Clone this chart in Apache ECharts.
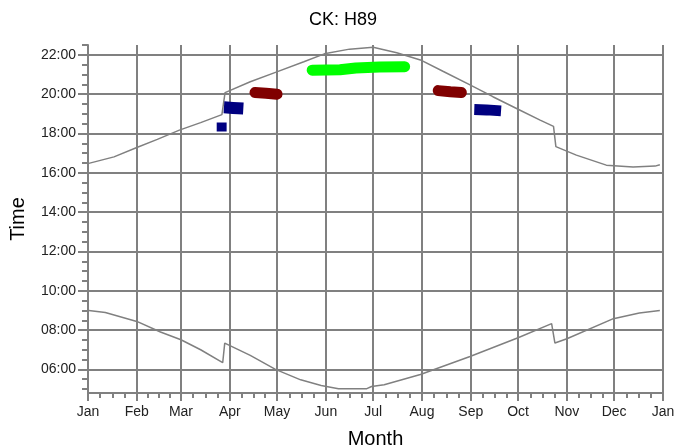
<!DOCTYPE html>
<html>
<head>
<meta charset="utf-8">
<script src="https://cdn.jsdelivr.net/npm/echarts@6/dist/echarts.min.js"></script>
<style>
html,body{margin:0;padding:0;background:#fff;}
#chart{width:674px;height:445px;}
</style>
</head>
<body>
<div id="chart"></div>
<script>
// ---- data (day of year, hours) ----
const monthLabels = ['Jan','Feb','Mar','Apr','May','Jun','Jul','Aug','Sep','Oct','Nov','Dec','Jan'];
const monthStartDays = [0,31,59,90,120,151,181,212,243,273,304,334,365];
const hourLabels = [6,8,10,12,14,16,18,20,22];

const sunsetDays  = [0.5, 16.5, 31, 44, 58, 71.5, 85, 87, 103, 119, 137, 150, 166, 181, 196, 211, 225.6, 242.5, 257, 273, 287, 295.5, 297, 310, 329, 346, 360, 363];
const sunsetHours = [16.48, 16.81, 17.29, 17.70, 18.17, 18.55, 18.96, 20.08, 20.63, 21.11, 21.65, 22.05, 22.29, 22.39, 22.11, 21.74, 21.15, 20.47, 19.87, 19.23, 18.68, 18.36, 17.33, 16.90, 16.39, 16.30, 16.34, 16.41];

const sunriseDays  = [0.5, 11, 31, 46, 59, 71.5, 85.5, 86.8, 103, 119, 135, 148, 159, 177, 180, 188, 211, 242.5, 273, 294.3, 296.4, 304, 333.5, 350, 363];
const sunriseHours = [9.00, 8.89, 8.44, 7.90, 7.51, 7.00, 6.34, 7.34, 6.71, 6.00, 5.47, 5.18, 5.02, 5.02, 5.13, 5.22, 5.74, 6.66, 7.61, 8.33, 7.34, 7.56, 8.58, 8.87, 9.00];

const blueA_days  = [81.7, 88];        const blueA_hours  = [18.33, 18.33];
const blueB_days  = [86.3, 92, 98.6];  const blueB_hours  = [19.33, 19.30, 19.27];
const redA_days   = [106, 113, 120];   const redA_hours   = [20.08, 20.05, 20.00];
const green_days  = [142.3, 160, 170, 185, 201]; const green_hours = [21.22, 21.24, 21.33, 21.38, 21.40];
const redB_days   = [222.3, 230, 237]; const redB_hours   = [20.18, 20.12, 20.08];
const blueC_days  = [245.2, 253, 262.2]; const blueC_hours = [19.22, 19.20, 19.15];

// ---- helpers ----
const zip = (a, b) => a.map((v, i) => [v, b[i]]);
const quarterDays = [];
for (let i = 0; i < monthStartDays.length - 1; i++) {
  const s = monthStartDays[i], e = monthStartDays[i + 1];
  for (let k = 1; k < 4; k++) quarterDays.push(s + (e - s) * k / 4);
}
const halfHours = [];
for (let h = 5; h <= 22.5; h += 0.5) halfHours.push(h);

const GRAY = '#808080';
const fmtHour = v => (v < 10 ? '0' : '') + v + ':00';
const fmtMonth = v => monthLabels[monthStartDays.indexOf(v)] || '';

function blob(name, days, hours, color, width, cap) {
  return {
    name, type: 'line', data: zip(days, hours), symbol: 'none', silent: true,
    xAxisIndex: 0, yAxisIndex: 0,
    lineStyle: { color, width, cap, join: 'round' }, z: 5
  };
}

const chart = echarts.init(document.getElementById('chart'), null, { renderer: 'canvas' });
chart.setOption({
  animation: false,
  backgroundColor: '#ffffff',
  title: {
    text: 'CK: H89', left: 304, top: 6,
    textStyle: { fontFamily: 'Liberation Sans', fontSize: 18, fontWeight: 'normal', color: '#000' }
  },
  grid: { left: 88, right: 11, top: 45, bottom: 52, containLabel: false, outerBoundsMode: 'none' },
  xAxis: [
    {
      type: 'value', min: 0, max: 365,
      name: 'Month', nameLocation: 'middle', nameGap: 36,
      nameTextStyle: { fontFamily: 'Liberation Sans', fontSize: 20, color: '#000' },
      axisLine: { show: true, lineStyle: { color: GRAY, width: 2 } },
      axisTick: { show: true, customValues: monthStartDays, length: 8, lineStyle: { color: GRAY, width: 2 } },
      axisLabel: { customValues: monthStartDays, formatter: fmtMonth, margin: 12, showMinLabel: true, showMaxLabel: true,
        fontFamily: 'Liberation Sans', fontSize: 14, color: '#222' },
      splitLine: { show: true, lineStyle: { color: GRAY, width: 2 } }
    },
    {
      type: 'value', min: 0, max: 365, position: 'bottom',
      axisLine: { show: false },
      axisTick: { show: true, customValues: quarterDays, length: 5, lineStyle: { color: GRAY, width: 2 } },
      axisLabel: { show: false },
      splitLine: { show: false }
    }
  ],
  yAxis: [
    {
      type: 'value', min: 4.8, max: 22.5,
      name: 'Time', nameLocation: 'middle', nameGap: 60,
      nameTextStyle: { fontFamily: 'Liberation Sans', fontSize: 20, color: '#000' },
      axisLine: { show: true, lineStyle: { color: GRAY, width: 2 } },
      axisTick: { show: true, customValues: hourLabels, length: 10, lineStyle: { color: GRAY, width: 2 } },
      axisLabel: { customValues: hourLabels, formatter: fmtHour, margin: 12,
        fontFamily: 'Liberation Sans', fontSize: 14, color: '#222' },
      splitLine: { show: true, lineStyle: { color: GRAY, width: 2 } }
    },
    {
      type: 'value', min: 4.8, max: 22.5, position: 'left', offset: 0,
      axisLine: { show: false },
      axisTick: { show: true, customValues: halfHours, length: 6, lineStyle: { color: GRAY, width: 2 } },
      axisLabel: { show: false },
      splitLine: { show: false }
    }
  ],
  series: [
    { name: 'Sunset', type: 'line', data: zip(sunsetDays, sunsetHours), symbol: 'none', silent: true,
      lineStyle: { color: GRAY, width: 1.5 }, z: 3 },
    { name: 'Sunrise', type: 'line', data: zip(sunriseDays, sunriseHours), symbol: 'none', silent: true,
      lineStyle: { color: GRAY, width: 1.5 }, z: 3 },
    blob('Blue A', blueA_days, blueA_hours, '#000080', 9, 'butt'),
    blob('Blue B', blueB_days, blueB_hours, '#000080', 12, 'butt'),
    blob('Red A', redA_days, redA_hours, '#800000', 11, 'round'),
    blob('Green', green_days, green_hours, '#00ff00', 11, 'round'),
    blob('Red B', redB_days, redB_hours, '#800000', 11, 'round'),
    blob('Blue C', blueC_days, blueC_hours, '#000080', 11, 'butt')
  ]
});
</script>
</body>
</html>
